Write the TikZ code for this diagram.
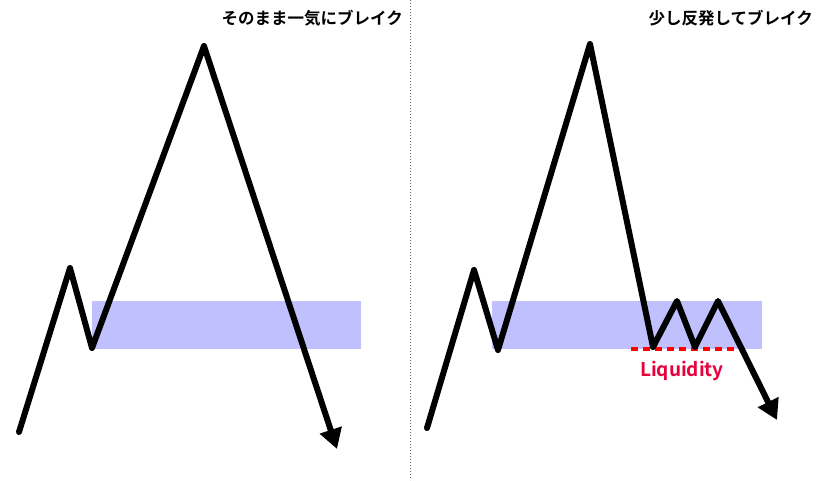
\documentclass[tikz,border=0pt]{standalone}
\usepackage{fontspec}
\newfontfamily\jpfont{Noto Sans CJK JP}[BoldFont={* Bold}]
\usetikzlibrary{arrows.meta}
\definecolor{zone}{RGB}{192,192,255}
\definecolor{liq}{RGB}{232,0,60}
\begin{document}
\begin{tikzpicture}[x=1pt,y=-1pt,
  price/.style={line width=6pt,line join=round,line cap=round,
    -{Triangle[length=20pt,width=22pt]}},
  zonebox/.style={fill=zone,draw=none},
  title/.style={font=\jpfont\bfseries\fontsize{16.5}{18}\selectfont,anchor=east,inner sep=0pt},
  divider/.style={gray!80!black,dotted,line width=1pt}]
\useasboundingbox[fill=white] (0,0) rectangle (820,480);
% divider
\coordinate (dtop) at (410,0);
\coordinate (dbot) at (410,480);
\draw[divider] (dtop) -- (dbot);
% titles
\node[title] (t1) at (403,18) {そのまま一気にブレイク};
\node[title] (t2) at (813,18) {少し反発してブレイク};
% zones
\node[zonebox,minimum width=269pt,minimum height=48pt,inner sep=0pt] (z1) at (226.5,325) {};
\node[zonebox,minimum width=270pt,minimum height=48pt,inner sep=0pt] (z2) at (627,325) {};
% left price path
\coordinate (a0) at (19,432);
\coordinate (a1) at (70,268);
\coordinate (a2) at (92,348);
\coordinate (a3) at (204,46);
\coordinate (a4) at (337,449);
\draw[price] (a0) -- (a1) -- (a2) -- (a3) -- (a4);
% right price path
\coordinate (b0) at (427,428);
\coordinate (b1) at (474,270);
\coordinate (b2) at (498,350);
\coordinate (b3) at (590,44);
\coordinate (b4) at (653,347);
\coordinate (b5) at (677,301);
\coordinate (b6) at (695,347);
\coordinate (b7) at (718,301);
\coordinate (b8) at (777,420);
% liquidity line
\coordinate (l0) at (631,349);
\coordinate (l1) at (735,349);
\draw[red,line width=3.5pt,dash pattern=on 7pt off 5pt] (l0) -- (l1);
\draw[price] (b0) -- (b1) -- (b2) -- (b3) -- (b4) -- (b5) -- (b6) -- (b7) -- (b8);
\node[text=liq,font=\jpfont\bfseries\fontsize{19}{22}\selectfont,inner sep=0pt] (lq) at (682,371) {Liquidity};
\end{tikzpicture}
\end{document}
